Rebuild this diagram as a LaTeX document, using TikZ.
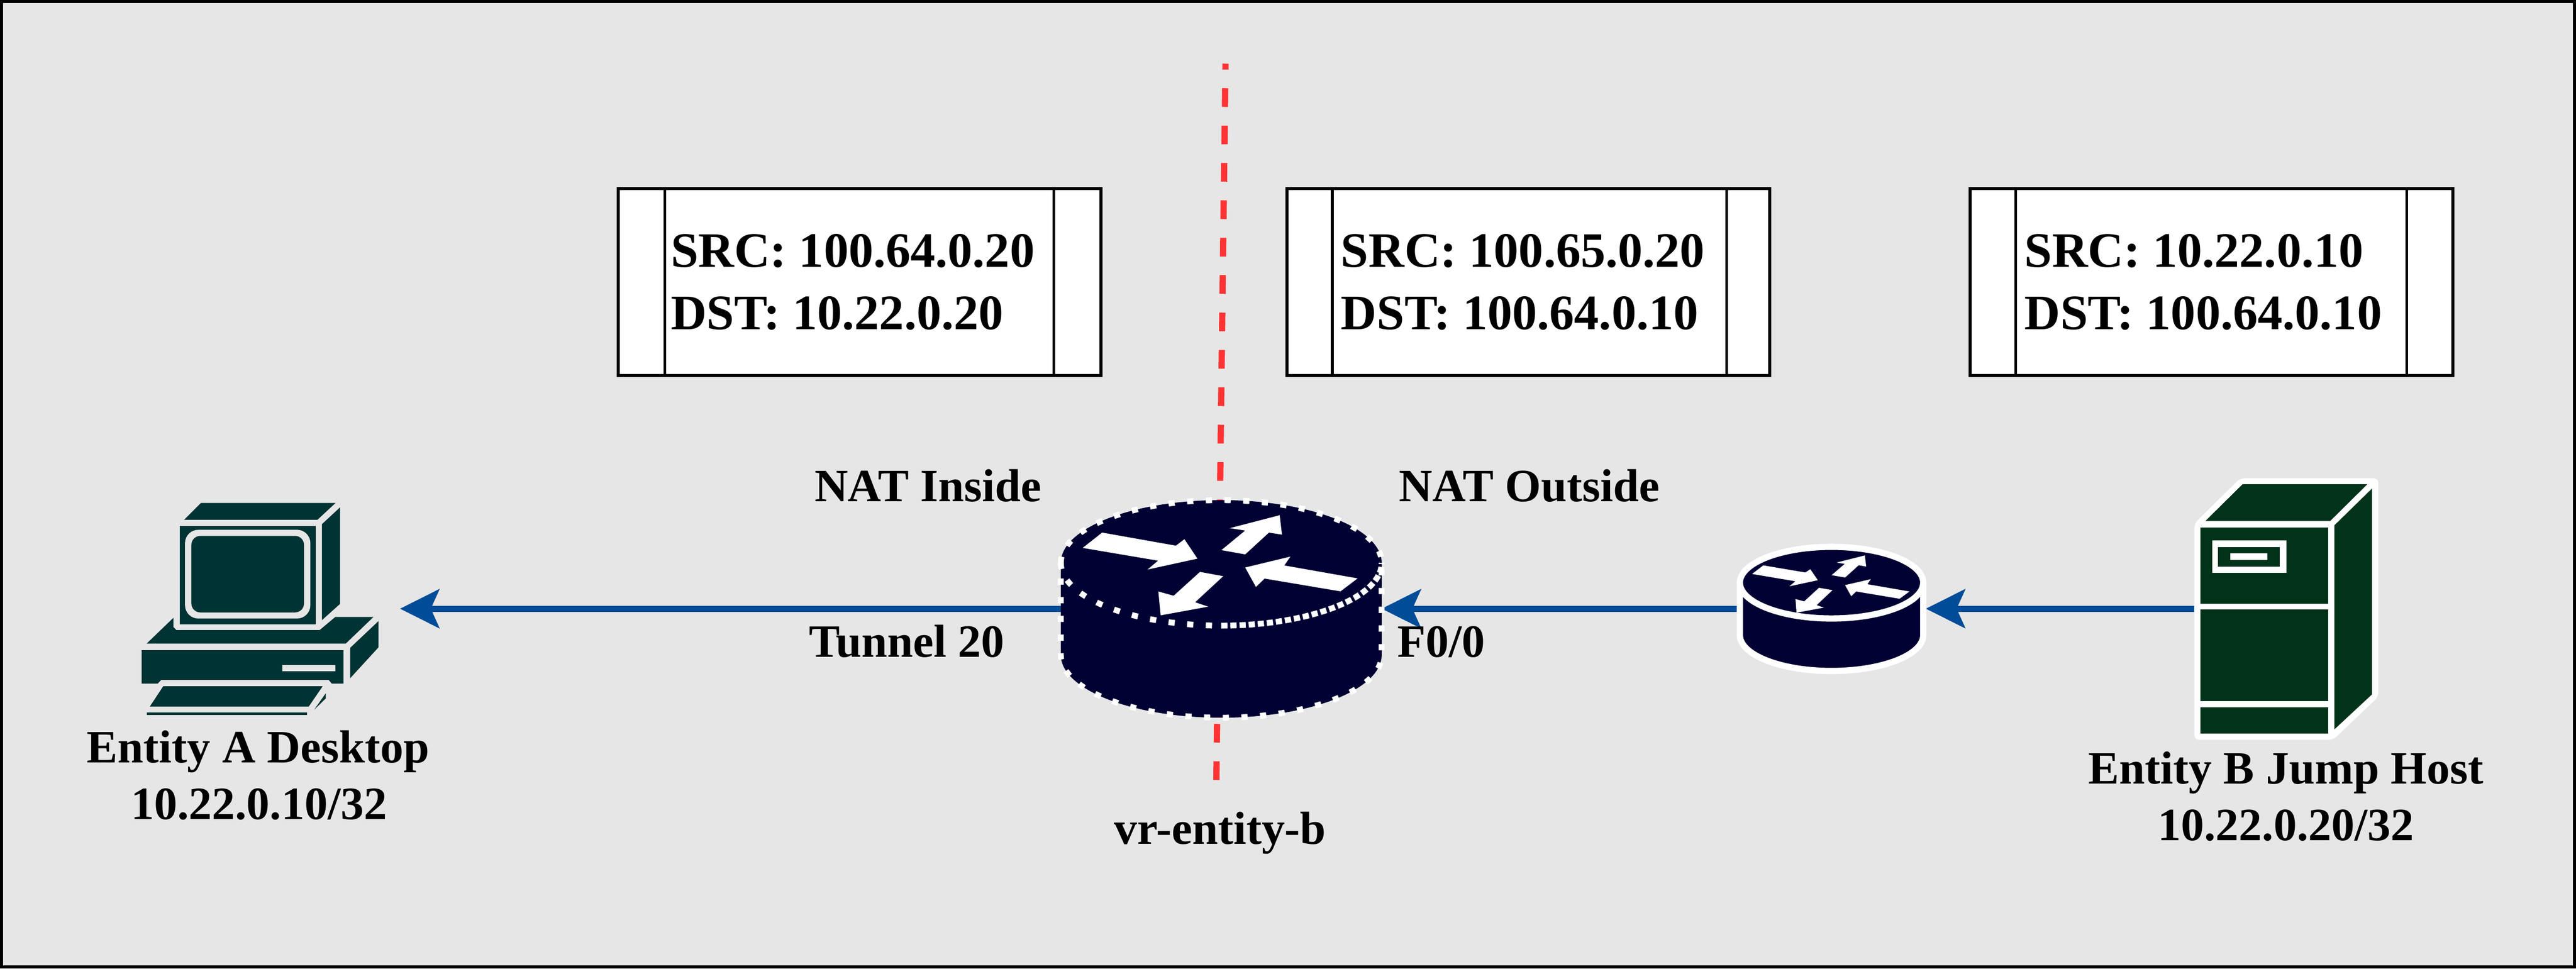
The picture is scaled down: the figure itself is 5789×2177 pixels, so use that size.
\documentclass[tikz,border=0pt]{standalone}
\usepackage{fontspec}
\setmainfont{Liberation Serif}
\usetikzlibrary{arrows.meta}
\definecolor{bgc}{HTML}{E6E6E6}
\definecolor{flow}{HTML}{004C99}
\definecolor{redl}{HTML}{FF3333}
\definecolor{navy}{HTML}{000033}
\definecolor{teal}{HTML}{003333}
\definecolor{forest}{HTML}{003319}
\tikzset{
  x=0.01cm,y=-0.01cm,
  lbl/.style={font=\fontsize{29.6}{36}\selectfont\bfseries,inner sep=0pt,anchor=base},
  pkt/.style={draw=black,fill=white,line width=0.07cm,minimum width=10.84cm,minimum height=4.2cm,inner sep=0pt},
  div/.style={draw=black,line width=0.06cm},
  pkttext/.style={font=\fontsize{31.7}{39.7}\selectfont\bfseries,inner sep=0pt,align=left,anchor=west},
  flowline/.style={draw=flow,line width=0.14cm,-{Stealth[length=0.88cm,width=0.87cm,inset=0.19cm]}},
  redline/.style={draw=redl,line width=0.14cm,dash pattern=on 0.42cm off 0.42cm},
  icon/.style={inner sep=0pt,minimum width=0pt},
  dotted white/.style={white,line width=0.13cm,dash pattern=on 0.14cm off 0.28cm},
}
\begin{document}
\begin{tikzpicture}
\useasboundingbox (0,0) rectangle (5789,2177);
\draw[black,fill=bgc,line width=0.07cm] (3.5,3.5) rectangle (5785.5,2173.5);
% boundary
\coordinate (redtop) at (2754,143);
\coordinate (redbot) at (2733.5,1753);
\draw[redline] (redbot) -- (redtop);
% packet boxes
\node[pkt] (b1) at (1931.5,634) {};
\node[pkt] (b2) at (3435,634) {};
\node[pkt] (b3) at (4970,634) {};
\foreach \b/\l/\r in {b1/1494/2368,b2/2994/3880,b3/4530/5409}{
  \draw[div] (\l,421) -- (\l,847);
  \draw[div] (\r,421) -- (\r,847);
}
\node[pkttext] (t1) at (1507,634) {SRC: 100.64.0.20\\DST: 10.22.0.20};
\node[pkttext] (t2) at (3013,634) {SRC: 100.65.0.20\\DST: 100.64.0.10};
\node[pkttext] (t3) at (4549,634) {SRC: 10.22.0.10\\DST: 100.64.0.10};
% anchors for connectors
\node[icon] (desk) at (899,1368) {};
\node[icon] (rA) at (2384,1368) {};
\node[icon] (rAe) at (3105,1368) {};
\node[icon] (rB) at (3903,1368) {};
\node[icon] (rBe) at (4328,1368) {};
\node[icon] (srv) at (4931,1368) {};
% connectors
\draw[flowline] (rA.center) -- (desk.center);
\draw[flowline] (rB.center) -- (rAe.center);
\draw[flowline] (srv.center) -- (rBe.center);
% big router
\fill[navy] (2384,1265) arc[start angle=180,end angle=360,x radius=360.5,y radius=141] -- (3105,1472) arc[start angle=0,end angle=180,x radius=360.5,y radius=141] -- cycle;
\draw[dotted white]
  (2384,1265) arc[start angle=-180,end angle=0,x radius=360.5,y radius=141] -- (3105,1472) arc[start angle=0,end angle=180,x radius=360.5,y radius=141] -- cycle;
\draw[dotted white] (2384,1265) arc[start angle=180,end angle=90,x radius=360.5,y radius=141];
\draw[white,line width=0.13cm,dash pattern=on 0.14cm off 0.065cm] (2744.5,1406) arc[start angle=90,end angle=0,x radius=360.5,y radius=141];
\begin{scope}[shift={(2300,1050)},xscale=0.57405,yscale=0.3827]
\fill[white] (308,384)--(597,461)--(630,423)--(681,537)--(486,601)--(527,549)--(232,474)--cycle;
\fill[white] (775,487)--(868,372)--(808,358)--(1003,282)--(1012,396)--(961,384)--(868,512)--cycle;
\fill[white] (868,589)--(1045,525)--(1021,577)--(1308,653)--(1241,729)--(944,654)--(910,703)--cycle;
\fill[white] (691,615)--(782,640)--(672,793)--(723,819)--(537,870)--(528,730)--(588,755)--cycle;
\end{scope}
% small router
\filldraw[navy,draw=white,line width=0.14cm] (3910,1309.5) arc[start angle=-180,end angle=0,x radius=206,y radius=80.5] -- (4322,1427.5) arc[start angle=0,end angle=180,x radius=206,y radius=80.5] -- cycle;
\draw[white,line width=0.14cm] (4322,1309.5) arc[start angle=0,end angle=180,x radius=206,y radius=80.5];
\begin{scope}[shift={(3800,1150)},xscale=0.3827,yscale=0.3333]
\fill[white] (425,362)--(672,410)--(701,388)--(745,462)--(579,503)--(613,469)--(359,420)--cycle;
\fill[white] (826,428)--(903,352)--(855,343)--(1021,295)--(1029,370)--(985,361)--(905,444)--cycle;
\fill[white] (905,495)--(1056,455)--(1036,489)--(1283,538)--(1225,587)--(970,538)--(941,570)--cycle;
\fill[white] (752,513)--(831,529)--(738,630)--(780,647)--(620,681)--(614,589)--(665,605)--cycle;
\end{scope}
% server
\begin{scope}[shift={(4850,1050)},xscale=0.35088,yscale=0.41454]
\fill[white,rounded corners=0.1cm] (232,305)--(525,60)--(1410,60)--(1410,1245)--(1120,1478)--(232,1478)--cycle;
\fill[forest] (302,292)--(541,92)--(1340,92)--(1101,292)--cycle;
\fill[forest] (1129,315)--(1369,116)--(1369,1232)--(1129,1421)--cycle;
\fill[forest] (272,326) rectangle (1089,739);
\fill[white] (345,398) rectangle (820,573);
\fill[forest] (384,432) rectangle (780,539);
\fill[white] (463,468) rectangle (701,503);
\fill[forest] (272,772) rectangle (1089,1268);
\fill[forest] (272,1303) rectangle (1089,1445);
\end{scope}
% desktop
\begin{scope}[shift={(200,1050)},xscale=0.5102,yscale=0.4464]
\fill[teal] (493,180)--(1086,180)--(1006,265)--(419,265)--cycle;
\fill[teal] (1106,202)--(1106,688)--(1026,770)--(1026,287)--cycle;
\fill[teal] (400,297) rectangle (998,790);
\fill[bgc,rounded corners=0.3cm] (423,315) rectangle (975,762);
\fill[teal,rounded corners=0.2cm] (451,346) rectangle (947,731);
\fill[teal] (372,758)--(372,805)--(385,820)--(1016,820)--(1085,754)--(1253,754)--(1131,888)--(254,888)--cycle;
\fill[teal] (1275,775)--(1275,907)--(1150,1063)--(1150,910)--cycle;
\fill[teal] (232,921)--(1121,921)--(1121,1089)--(1069,1089)--(1056,1071)--(318,1071)--(303,1089)--(232,1089)--cycle;
\fill[bgc] (852,997) rectangle (1085,1028);
\fill[teal] (327,1103)--(1029,1103)--(968,1205)--(268,1205)--cycle;
\fill[teal] (1043,1138)--(1043,1164)--(992,1221)--cycle;
\fill[teal] (254,1236) rectangle (961,1248);
\end{scope}
% labels
\node[lbl] (l1) at (2085.5,1127) {NAT Inside};
\node[lbl] (l2) at (3437,1127) {NAT Outside};
\node[lbl] (l3) at (2038,1477) {Tunnel 20};
\node[lbl] (l4) at (3239,1477) {F0/0};
\node[lbl] (l5) at (2742,1897) {vr-entity-b};
\node[lbl] (l6) at (580,1714) {Entity A Desktop};
\node[lbl] (l7) at (582,1841) {10.22.0.10/32};
\node[lbl] (l8) at (5137,1761) {Entity B Jump Host};
\node[lbl] (l9) at (5137,1889) {10.22.0.20/32};
\end{tikzpicture}
\end{document}
